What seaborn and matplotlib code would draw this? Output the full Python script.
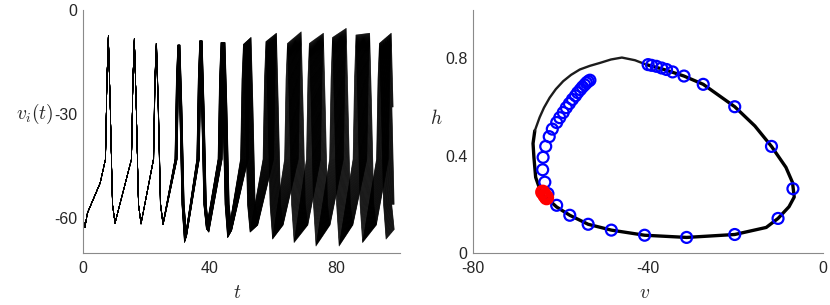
import numpy as np
import pandas as pd
import matplotlib
matplotlib.use("Agg")
import matplotlib.pyplot as plt
import seaborn as sns

# ------------------------------
# DATA
# ------------------------------
# left panel: common start of every trace, before the first spike
start_t = [0.0, 0.6, 1.4, 2.7, 5.4]
start_v = [-60.4, -62.6, -58.5, -55.7, -49.9]

# per spike cycle: peak time of earliest / latest neuron, peak and trough voltages
t_first = [8.0, 16.2, 23.1, 29.9, 36.8, 43.5, 50.6, 57.7, 64.5, 71.4, 78.7, 86.1, 93.5]
t_last = [8.0, 16.2, 23.2, 30.6, 37.6, 44.8, 53.0, 61.0, 68.8, 75.8, 83.0, 90.4, 97.2]
vp_first = [-7.6, -8.3, -9.7, -10.2, -9.0, -9.5, -10.0, -9.2, -9.7, -9.7, -8.0, -7.3, -9.7]
vp_last = [-7.6, -8.3, -9.7, -10.2, -9.0, -9.5, -8.0, -6.8, -6.4, -6.8, -5.4, -6.8, -6.8]
trough_first = [-61.4, -61.6, -61.7, -67.0, -63.0, -65.6, -64.0, -66.0, -67.0, -68.0, -68.0, -67.0, -66.0]
trough_last = [-61.4, -61.6, -61.7, -65.0, -64.0, -63.5, -62.0, -62.0, -62.0, -62.0, -62.0, -62.0, -62.0]

# spike waveform: time offsets from the peak and the fixed voltages (None = peak / trough)
spike_dt = [-0.9, -0.45, 0.0, 0.6, 1.3, 2.1]
spike_v = [-43.0, -20.0, None, -28.0, -56.0, None]
t_end = 98.2
n_neurons = 30

# right panel: limit cycle in the (v, h) plane
cycle_v = [-63.8, -62.5, -60.9, -57.9, -53.7, -48.4, -40.8, -31.2, -20.2, -13.0, -10.3, -7.8,
           -6.6, -7.0, -8.5, -11.8, -15.6, -20.2, -27.4, -31.8, -36.0, -40.4,
           -43.0, -46.0, -48.5, -51.0, -53.3, -55.6, -57.6, -59.4, -61.1, -62.5, -63.8, -64.8,
           -65.9, -66.3, -66.1, -65.7, -64.4, -63.8]
cycle_h = [0.235, 0.215, 0.189, 0.155, 0.118, 0.094, 0.073, 0.064, 0.076, 0.105, 0.142, 0.19,
           0.23, 0.29, 0.352, 0.438, 0.522, 0.601, 0.693, 0.727, 0.752, 0.774,
           0.792, 0.803, 0.795, 0.781, 0.769, 0.754, 0.732, 0.706, 0.673, 0.638, 0.597, 0.557,
           0.502, 0.45, 0.393, 0.311, 0.244, 0.235]
thin_from, thin_to = 21, 34   # sparse (fast) part of the orbit

blue_v = [-48.4, -40.8, -31.2, -20.2, -10.3, -6.9, -11.8, -20.2, -27.4, -31.8, -34.4,
          -35.8, -36.9, -38.1, -39.2, -40.0,
          -53.7, -57.9, -60.9, -62.9, -63.6, -64.1, -64.0, -63.4, -62.6, -61.9, -60.9, -60.2,
          -59.4, -58.7, -58.0, -57.3, -56.6, -56.1, -55.5, -55.0, -54.5, -54.1, -53.7, -53.3]
blue_h = [0.094, 0.073, 0.064, 0.076, 0.142, 0.264, 0.438, 0.601, 0.693, 0.727, 0.744,
          0.754, 0.760, 0.767, 0.771, 0.774,
          0.118, 0.155, 0.196, 0.244, 0.291, 0.342, 0.393, 0.438, 0.478, 0.509, 0.536, 0.556,
          0.577, 0.597, 0.614, 0.631, 0.646, 0.659, 0.671, 0.682, 0.691, 0.699, 0.705, 0.710]

red_v = [-64.1, -63.6, -63.2]
red_h = [0.250, 0.237, 0.227]

# ------------------------------
# STYLE
# ------------------------------
sns.set_style("white")
plt.rcParams['font.family'] = ['Liberation Sans', 'DejaVu Sans']
plt.rcParams['mathtext.fontset'] = 'cm'
plt.rcParams['axes.unicode_minus'] = False
GREY = '#8a8a8a'
TXT = '#262626'


def build_traces():
    rows = []
    for k in range(n_neurons):
        f = k / (n_neurons - 1)
        ts = list(start_t)
        vs = list(start_v)
        for c in range(len(t_first)):
            tp = t_first[c] + f * (t_last[c] - t_first[c])
            vp = vp_first[c] + f * (vp_last[c] - vp_first[c])
            vt = trough_first[c] + f * (trough_last[c] - trough_first[c])
            for dt, v in zip(spike_dt, spike_v):
                if v is None:
                    v = vp if dt == 0 else vt
                ts.append(tp + dt)
                vs.append(v)
        for t, v in zip(ts, vs):
            if t <= t_end:
                rows.append((k, t, v))
    return pd.DataFrame(rows, columns=['neuron', 't', 'v'])


def style_axes(ax):
    sns.despine(ax=ax)
    for s in ['left', 'bottom']:
        ax.spines[s].set_color(GREY)
        ax.spines[s].set_linewidth(0.8)
    ax.tick_params(direction='in', length=3, width=0.8, color=GREY,
                   labelcolor=TXT, labelsize=11.5)
    ax.tick_params(axis='x', pad=6)
    ax.tick_params(axis='y', pad=4)


fig = plt.figure(figsize=(8.3, 3.05), dpi=100)
ax1 = fig.add_axes([0.100, 0.1705, 0.382, 0.798])
ax2 = fig.add_axes([0.570, 0.1705, 0.4217, 0.798])

# left: membrane potentials
df = build_traces()
sns.lineplot(data=df, x='t', y='v', units='neuron', estimator=None, sort=False,
             color='black', lw=0.5, ax=ax1, legend=False)
ax1.set_xlim(0, 100)
ax1.set_ylim(-70, 0)
ax1.set_xticks([0, 40, 80])
ax1.set_yticks([-60, -30, 0])
ax1.set_xticklabels(['0', '40', '80'])
ax1.set_yticklabels(['-60', '-30', '0'])
style_axes(ax1)
ax1.set_xlabel('$t$', fontsize=14, color=TXT, va='center')
ax1.xaxis.set_label_coords(0.486, -0.165)
ax1.set_ylabel('$v_i(t)$', fontsize=14, color=TXT, rotation=0, ha='center', va='center')
ax1.yaxis.set_label_coords(-0.152, 0.571)

# right: phase plane
n = len(cycle_v)
idx_thick = list(range(thin_to, n)) + list(range(0, thin_from + 1))
thick = pd.DataFrame({'v': [cycle_v[i] for i in idx_thick], 'h': [cycle_h[i] for i in idx_thick]})
thin = pd.DataFrame({'v': cycle_v[thin_from:thin_to + 1], 'h': cycle_h[thin_from:thin_to + 1]})
sns.lineplot(data=thick, x='v', y='h', sort=False, estimator=None, color='black', lw=2.4, ax=ax2)
sns.lineplot(data=thin, x='v', y='h', sort=False, estimator=None, color='#1c1c1c', lw=1.7, ax=ax2)
sns.scatterplot(x=blue_v, y=blue_h, marker='o', s=62, facecolors='none',
                edgecolor='blue', linewidth=1.6, ax=ax2, zorder=3)
sns.scatterplot(x=red_v, y=red_h, marker='o', s=62, facecolors='none',
                edgecolor='red', linewidth=3.0, ax=ax2, zorder=4)
ax2.set_xlim(-80, 0)
ax2.set_ylim(0, 1)
ax2.set_xticks([-80, -40, 0])
ax2.set_yticks([0, 0.4, 0.8])
ax2.set_xticklabels(['-80', '-40', '0'])
ax2.set_yticklabels(['0', '0.4', '0.8'])
style_axes(ax2)
ax2.set_xlabel('$v$', fontsize=14, color=TXT, va='center')
ax2.xaxis.set_label_coords(0.489, -0.165)
ax2.set_ylabel('$h$', fontsize=14, color=TXT, rotation=0, ha='center', va='center')
ax2.yaxis.set_label_coords(-0.106, 0.554)

fig.savefig('out.png', dpi=100)
